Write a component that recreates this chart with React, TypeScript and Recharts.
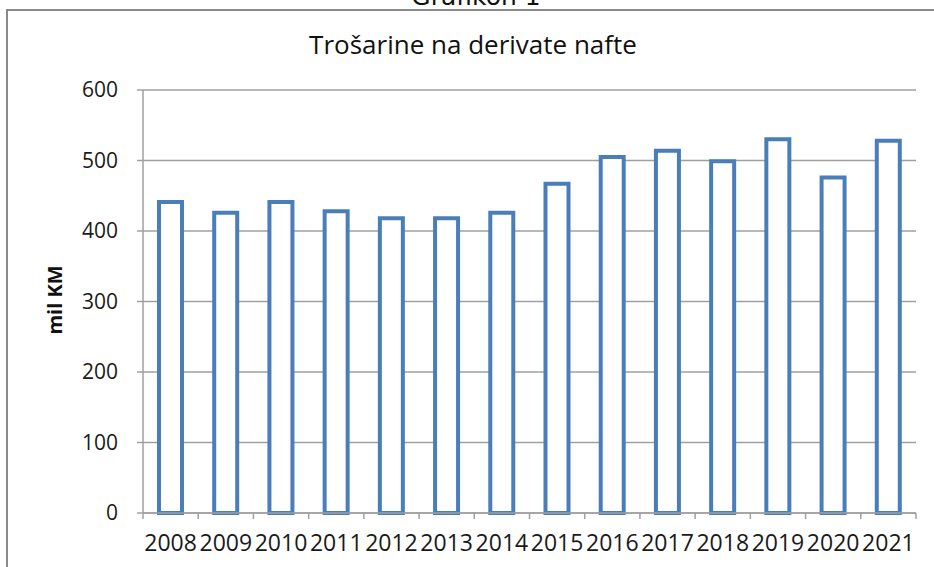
import React from 'react';
import { BarChart, Bar, XAxis, YAxis, CartesianGrid } from 'recharts';

const years = ['2008', '2009', '2010', '2011', '2012', '2013', '2014', '2015', '2016', '2017', '2018', '2019', '2020', '2021'];
const values = [441, 426, 441, 428, 418, 418, 426, 467, 505, 514, 499, 530, 476, 528];
const yTicks = [0, 100, 200, 300, 400, 500, 600];

const title = 'Trošarine na derivate nafte';
const caption = 'Grafikon 1';
const yLabel = 'mil KM';

const data = years.map((y, i) => ({ year: y, value: values[i] }));

const FONT = '"Open Sans", "DejaVu Sans", sans-serif';
const AXIS = '#a0a0a0';
const LABEL_GAP = 22;

const CatTick = (props: any) => {
  const { x, y, payload, width, visibleTicksCount, index } = props;
  const count = visibleTicksCount || years.length;
  const band = (Number(width) || 773) / count;
  const axisY = y - LABEL_GAP;
  return (
    <g>
      <line x1={x - band / 2} y1={axisY} x2={x - band / 2} y2={axisY + 6} stroke={AXIS} strokeWidth={1.5} />
      {index === count - 1 && (
        <line x1={x + band / 2} y1={axisY} x2={x + band / 2} y2={axisY + 6} stroke={AXIS} strokeWidth={1.5} />
      )}
      <text x={x} y={y} dy="0.71em" textAnchor="middle" fill="#1a1a1a" fontSize={23} fontFamily={FONT}>
        {payload.value}
      </text>
    </g>
  );
};

export default function App() {
  return (
    <div style={{ position: 'absolute', left: 0, top: 0, width: 934, height: 567, overflow: 'hidden', background: '#fff' }}>
      <div style={{ position: 'absolute', left: 6, top: 9, width: 940, height: 600, borderLeft: '2px solid #8a8a8a', borderTop: '2px solid #8a8a8a' }} />
      <BarChart
        width={934}
        height={567}
        data={data}
        margin={{ top: 90, right: 18, bottom: 4, left: 83 }}
        style={{ position: 'absolute', left: 0, top: 0 }}
      >
        <CartesianGrid horizontal vertical={false} stroke={AXIS} strokeWidth={1.5} />
        <XAxis
          dataKey="year"
          type="category"
          interval={0}
          tickLine={false}
          tickSize={0}
          tickMargin={LABEL_GAP}
          height={50}
          axisLine={{ stroke: AXIS, strokeWidth: 1.5 }}
          tick={<CatTick />}
        />
        <YAxis
          width={60}
          domain={[0, 600]}
          ticks={yTicks}
          interval={0}
          tickSize={6}
          tickMargin={19}
          axisLine={{ stroke: AXIS, strokeWidth: 1.5 }}
          tickLine={{ stroke: AXIS, strokeWidth: 1.5 }}
          tick={{ fill: '#1a1a1a', fontSize: 21, fontFamily: FONT }}
        />
        <Bar
          dataKey="value"
          fill="#ffffff"
          stroke="#4a7ebb"
          strokeWidth={4}
          barSize={23}
          isAnimationActive={false}
        />
      </BarChart>
      <svg width={934} height={567} style={{ position: 'absolute', left: 0, top: 0, pointerEvents: 'none' }}>
        <text x={476} y={5} textAnchor="middle" fontFamily='"DejaVu Sans", sans-serif' fontSize={25} fill="#111">{caption}</text>
        <text x={473} y={54} textAnchor="middle" fontFamily={FONT} fontSize={26} fill="#111">{title}</text>
        <text
          x={62}
          y={300}
          textAnchor="middle"
          transform="rotate(-90 62 300)"
          fontFamily={FONT}
          fontWeight="bold"
          fontSize={20}
          fill="#111"
        >{yLabel}</text>
      </svg>
    </div>
  );
}
